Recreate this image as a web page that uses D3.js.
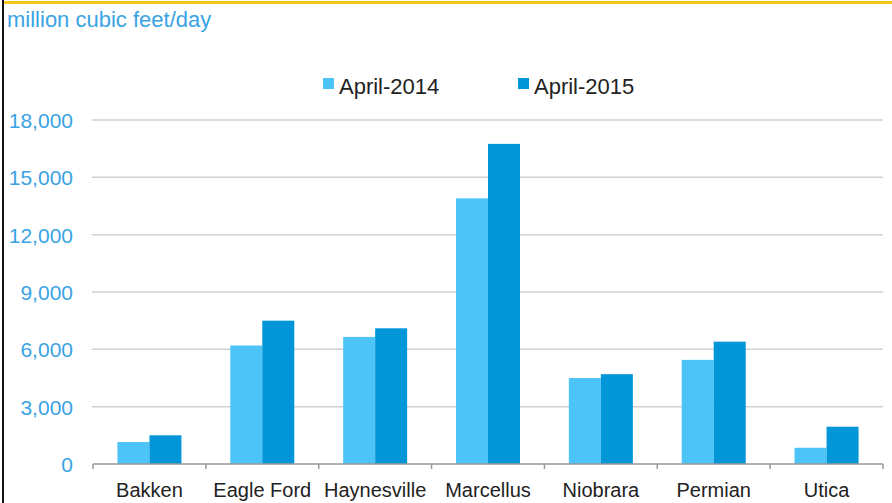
<!DOCTYPE html>
<meta charset="utf-8">
<style>
body { margin: 0; background: #fff; }
svg { font-family: "Liberation Sans", Arial, sans-serif; }
.grid line { stroke: #d0d0d0; stroke-width: 1.5px; }
</style>
<body>
<script src="https://cdn.jsdelivr.net/npm/d3@7"></script>
<script>

var plays = ["Bakken", "Eagle Ford", "Haynesville", "Marcellus", "Niobrara", "Permian", "Utica"];
var seriesNames = ["April-2014", "April-2015"];
var april2014 = [1150, 6200, 6650, 13900, 4500, 5450, 850];
var april2015 = [1500, 7500, 7100, 16750, 4700, 6400, 1950];
var yTicks = [0, 3000, 6000, 9000, 12000, 15000, 18000];
var colors = ["#4dc4f8", "#0096d8"];

var width = 892, height = 503;
var plot = {left: 93, right: 883, top: 120, bottom: 464};

var svg = d3.select("body").append("svg")
    .attr("width", width)
    .attr("height", height);

// frame bits: yellow top rule, black left edge
svg.append("rect").attr("x", 4).attr("y", 1).attr("width", width).attr("height", 3).attr("fill", "#f5c518");
svg.append("rect").attr("x", 2).attr("y", 0).attr("width", 2).attr("height", height).attr("fill", "#111");

var x = d3.scaleBand().domain(plays).range([plot.left, plot.right]);
var x1 = d3.scaleBand().domain(seriesNames).range([0, 64]);
var y = d3.scaleLinear().domain([0, 18000]).range([plot.bottom, plot.top]);

// gridlines
svg.append("g").attr("class", "grid")
  .selectAll("line")
  .data(yTicks.filter(function(d) { return d > 0; }))
  .enter().append("line")
    .attr("x1", plot.left - 1).attr("x2", plot.right)
    .attr("y1", function(d) { return y(d); })
    .attr("y2", function(d) { return y(d); });

// y labels
svg.append("g")
  .selectAll("text")
  .data(yTicks)
  .enter().append("text")
    .attr("x", 73)
    .attr("y", function(d) { return y(d) + 8; })
    .attr("text-anchor", "end")
    .attr("fill", "#3aa3e3")
    .style("font-size", "21px")
    .text(function(d) { return d3.format(",")(d); });

// bars
var series = [april2014, april2015];
series.forEach(function(vals, si) {
  svg.append("g")
    .selectAll("rect")
    .data(vals)
    .enter().append("rect")
      .attr("x", function(d, i) { return x(plays[i]) + x.bandwidth() / 2 - 32 + x1(seriesNames[si]); })
      .attr("y", function(d) { return y(d); })
      .attr("width", x1.bandwidth())
      .attr("height", function(d) { return plot.bottom - y(d); })
      .attr("fill", colors[si]);
});

// x axis
var xAxis = svg.append("g")
    .attr("transform", "translate(0," + plot.bottom + ")");
xAxis.append("line")
    .attr("x1", plot.left).attr("x2", plot.right)
    .attr("stroke", "#999").attr("stroke-width", 1.5);
xAxis.selectAll(".tk")
  .data(plays.concat(["end"]))
  .enter().append("line")
    .attr("x1", function(d, i) { return plot.left + i * x.step(); })
    .attr("x2", function(d, i) { return plot.left + i * x.step(); })
    .attr("y1", 0).attr("y2", 5)
    .attr("stroke", "#999").attr("stroke-width", 1.5);
xAxis.selectAll("text")
  .data(plays)
  .enter().append("text")
    .attr("x", function(d) { return x(d) + x.bandwidth() / 2; })
    .attr("y", 33)
    .attr("text-anchor", "middle")
    .attr("fill", "#222")
    .style("font-size", "20px")
    .text(function(d) { return d; });

// title
svg.append("text")
    .attr("x", 7).attr("y", 27)
    .attr("fill", "#3aa3e3")
    .style("font-size", "22px")
    .text("million cubic feet/day");

// legend
var legendX = [323, 518];
seriesNames.forEach(function(name, i) {
  svg.append("rect")
      .attr("x", legendX[i]).attr("y", 78)
      .attr("width", 11).attr("height", 11)
      .attr("fill", colors[i]);
  svg.append("text")
      .attr("x", legendX[i] + 16).attr("y", 94)
      .attr("fill", "#222")
      .style("font-size", "22px")
      .text(name);
});
</script>
</body>
